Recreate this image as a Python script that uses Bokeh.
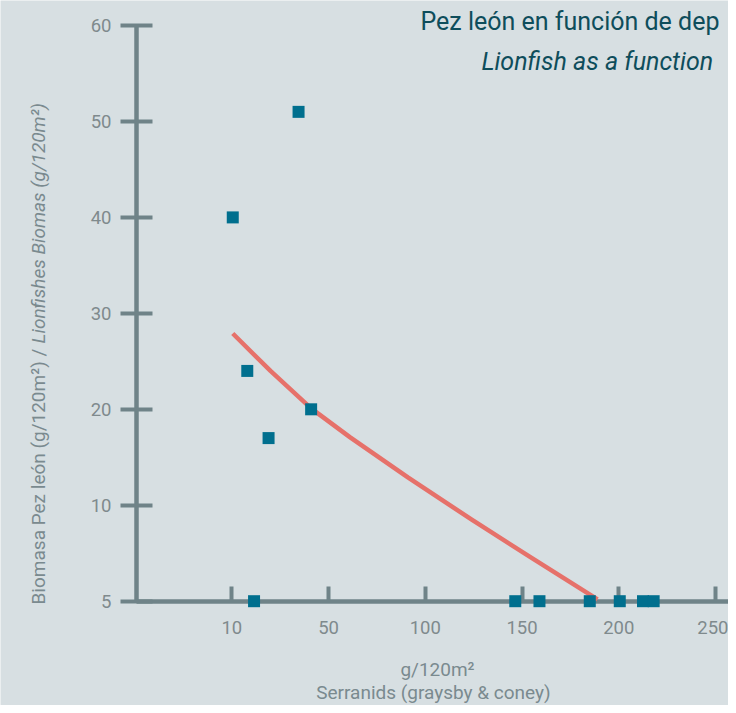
from bokeh.plotting import figure
from bokeh.models import Range1d, FixedTicker, Label, LinearAxis
from bokeh.embed import file_html
from bokeh.resources import INLINE
import math

# ---- data ----
serranids = [0.5, 34.5, 8.0, 19.0, 41.0, 11.5, 146.5, 159.0, 185.0, 200.5, 212.5, 218.0]
lionfish = [40.0, 51.0, 24.0, 17.0, 20.0, 0.0, 0.0, 0.0, 0.0, 0.0, 0.0, 0.0]

trend_x = [0.5, 20.0, 41.0, 61.0, 91.0, 124.0, 153.5, 189.0]
trend_y = [27.9, 24.0, 20.1, 17.1, 12.9, 8.5, 4.7, 0.2]

x_ticks = [0, 50, 100, 150, 200, 250]
x_tick_labels = ["10", "50", "100", "150", "200", "250"]
y_ticks = [0, 10, 20, 30, 40, 50, 60]
y_tick_labels = ["5", "10", "20", "30", "40", "50", "60"]

title_es = "Pez león en función de dep"
title_en = "Lionfish as a function"
xlabel_1 = "g/120m²"
xlabel_2 = "Serranids (graysby & coney)"
ylabel_es = "Biomasa Pez león (g/120m²) / "
ylabel_en = "Lionfishes Biomas (g/120m²)"

FONT = "Roboto"
BG = "#d7dfe2"
AXIS = "#6f8388"
TICKTXT = "#7f8a8d"
LABTXT = "#7a8a8f"
TITLE = "#0e4d5b"
MARK = "#006f8e"
CURVE = "#e6716a"

p = figure(width=728, height=705, output_backend="svg", toolbar_location=None,
           x_range=Range1d(-119.53, 256.69), y_range=Range1d(-10.87, 62.606),
           x_axis_location=None, y_axis_location=None, min_border=0)
p.background_fill_color = BG
p.border_fill_color = BG
p.outline_line_color = None
p.grid.visible = False

yax = LinearAxis(ticker=FixedTicker(ticks=y_ticks),
                 major_label_overrides=dict(zip(y_ticks, y_tick_labels)))
yax.fixed_location = -49.25
yax.bounds = (0, 60)
yax.axis_line_color = AXIS
yax.axis_line_width = 4.5
yax.major_tick_line_color = AXIS
yax.major_tick_line_width = 4
yax.major_tick_in = 16
yax.major_tick_out = 16
yax.minor_tick_line_color = None
yax.major_label_standoff = 9
yax.major_label_text_font = FONT
yax.major_label_text_font_size = "18.5px"
yax.major_label_text_color = TICKTXT
p.add_layout(yax, "left")

xax = LinearAxis(ticker=FixedTicker(ticks=x_ticks),
                 major_label_overrides=dict(zip(x_ticks, x_tick_labels)))
xax.fixed_location = 0
xax.bounds = (-49.25, 256.69)
xax.axis_line_color = AXIS
xax.axis_line_width = 4.5
xax.major_tick_line_color = AXIS
xax.major_tick_line_width = 4
xax.major_tick_in = 15
xax.major_tick_out = 0
xax.minor_tick_line_color = None
xax.major_label_standoff = 20
xax.major_label_text_font = FONT
xax.major_label_text_font_size = "18.5px"
xax.major_label_text_color = TICKTXT
p.add_layout(xax, "below")

line_r = p.line(trend_x, trend_y, line_color=CURVE, line_width=4.5, line_join="round")
line_r.level = "overlay"
pts = p.scatter(serranids, lionfish, marker="square", size=12, fill_color=MARK, line_color=None)
pts.level = "overlay"

# texts (placed in data coordinates)
p.add_layout(Label(x=97.5, y=60.37, text=title_es, text_font=FONT, text_font_size="25px",
                   text_color=TITLE, text_baseline="middle", text_align="left"))
p.add_layout(Label(x=129.0, y=56.25, text=title_en, text_font=FONT, text_font_size="25px",
                   text_font_style="italic", text_color=TITLE, text_baseline="middle",
                   text_align="left"))
p.add_layout(Label(x=106.3, y=-7.07, text=xlabel_1, text_font=FONT, text_font_size="19px",
                   text_color=LABTXT, text_baseline="middle", text_align="center"))
p.add_layout(Label(x=104.2, y=-9.51, text=xlabel_2, text_font=FONT, text_font_size="19px",
                   text_color=LABTXT, text_baseline="middle", text_align="center"))
p.add_layout(Label(x=-99.9, y=-0.34, text=ylabel_es, text_font=FONT, text_font_size="19px",
                   text_color=LABTXT, text_baseline="middle", text_align="left",
                   angle=math.pi / 2))
p.add_layout(Label(x=-99.9, y=26.86, text=ylabel_en, text_font=FONT, text_font_size="19px",
                   text_font_style="italic", text_color=LABTXT, text_baseline="middle",
                   text_align="left", angle=math.pi / 2))

open("out.html", "w").write(file_html(p, INLINE))
